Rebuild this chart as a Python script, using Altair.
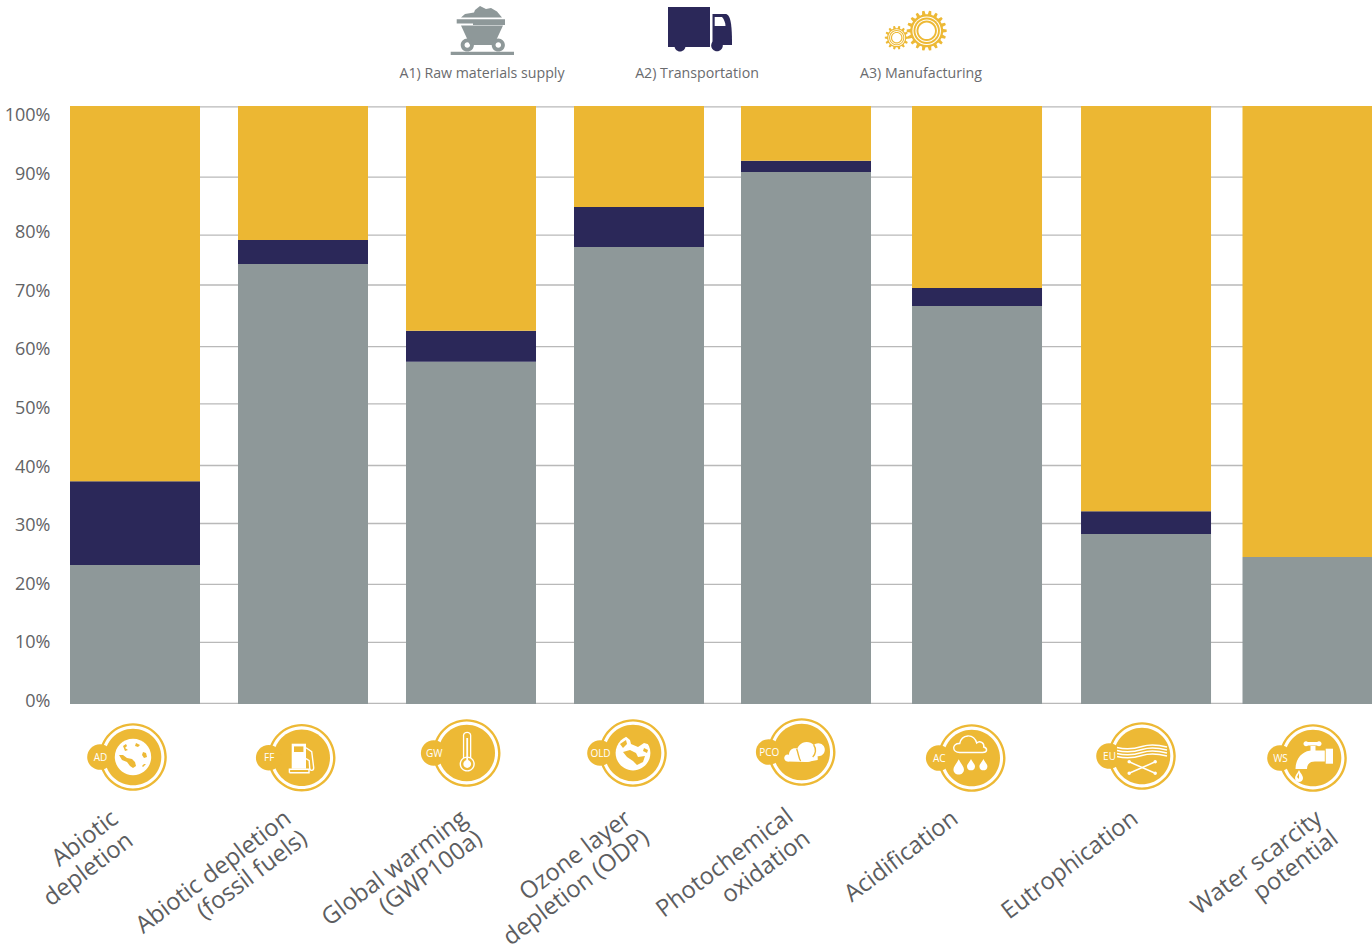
import math

import altair as alt
import pandas as pd

# Impact categories and the share of each life-cycle stage, in percent
categories = [
    "Abiotic depletion", "Abiotic depletion (fossil fuels)", "Global warming (GWP100a)",
    "Ozone layer depletion (ODP)", "Photochemical oxidation", "Acidification",
    "Eutrophication", "Water scarcity potential",
]
slots = [0, 1.003, 2.006, 3.009, 4.006, 5.027, 6.036, 7]
raw_materials = [23.7, 75.1, 58.4, 78.0, 90.8, 67.9, 29.0, 25.1]
transportation = [14.3, 4.1, 5.3, 6.8, 1.9, 3.1, 3.9, 0.0]
manufacturing = [64.05, 22.85, 38.35, 17.25, 9.35, 31.05, 69.15, 76.95]

stage_names = ["A1) Raw materials supply", "A2) Transportation", "A3) Manufacturing"]
tick_values = [0, 10, 20, 30, 40, 50, 60, 70, 80, 90, 100]
grid_levels = [0.1, 10.5, 20.4, 30.8, 40.7, 51.2, 61.0, 71.5, 80.0, 89.9, 101.9]

GREY = "#8e9899"
NAVY = "#2b2859"
YELLOW = "#ecb733"
ICON = "#edb935"
WHITE = "#ffffff"
TEXT = "#5c5d60"


def circle(cx, cy, r, hole=False):
    """Closed circle made of four cubic segments; hole=True reverses the winding."""
    k = 0.5523 * r
    if hole:
        return (f"M{cx + r},{cy}C{cx + r},{cy - k} {cx + k},{cy - r} {cx},{cy - r}"
                f"C{cx - k},{cy - r} {cx - r},{cy - k} {cx - r},{cy}"
                f"C{cx - r},{cy + k} {cx - k},{cy + r} {cx},{cy + r}"
                f"C{cx + k},{cy + r} {cx + r},{cy + k} {cx + r},{cy}Z")
    return (f"M{cx + r},{cy}C{cx + r},{cy + k} {cx + k},{cy + r} {cx},{cy + r}"
            f"C{cx - k},{cy + r} {cx - r},{cy + k} {cx - r},{cy}"
            f"C{cx - r},{cy - k} {cx - k},{cy - r} {cx},{cy - r}"
            f"C{cx + k},{cy - r} {cx + r},{cy - k} {cx + r},{cy}Z")


def drop(cx, cy, w, h):
    """Water drop with its point upward, centred on (cx, cy)."""
    t, b, hw = cy - h / 2, cy + h / 2, w / 2
    return (f"M{cx},{t}C{cx + hw * 0.4},{t + h * 0.3} {cx + hw},{t + h * 0.45} {cx + hw},{b - hw}"
            f"C{cx + hw},{b + hw * 0.3} {cx - hw},{b + hw * 0.3} {cx - hw},{b - hw}"
            f"C{cx - hw},{t + h * 0.45} {cx - hw * 0.4},{t + h * 0.3} {cx},{t}Z")


def gear(cx, cy, outer, inner, teeth):
    """Toothed wheel outline."""
    pts = []
    step = 2 * math.pi / teeth
    for i in range(teeth):
        a = i * step
        for da, r in [(-0.3, inner), (-0.17, outer), (0.17, outer), (0.3, inner)]:
            ang = a + da * step
            pts.append(f"{cx + r * math.cos(ang):.2f},{cy + r * math.sin(ang):.2f}")
    return "M" + "L".join(pts) + "Z"


fills = []    # x, y, path, colour of filled pieces, painted in row order
strokes = []  # x, y, path, colour, width of outlined pieces


def fill(x, y, path, color):
    fills.append({"x": x, "y": y, "path": path, "color": color})


def stroke(x, y, path, color=WHITE):
    strokes.append({"x": x, "y": y, "path": path, "color": color})


# Badge centres and their tag text
badges = [
    ("AD", 133, 757), ("FF", 301.7, 757.7), ("GW", 466.7, 753), ("OLD", 633, 753),
    ("PCO", 801.7, 752), ("AC", 971.7, 758), ("EU", 1142, 756), ("WS", 1313, 758),
]
for _, bx, by in badges:
    fill(bx, by, circle(0, 0, 33.8) + circle(0, 0, 31.4, hole=True), ICON)
    fill(bx, by, circle(0, 0, 28.3), ICON)
    fill(bx, by, circle(-33, 0, 12.8), ICON)

# Earth: white disc with thin yellow coastlines and seas
land = ("M-10,-11L-7,-13L-6,-11L-8,-9L-5,-7L-8,-6Z"
        "M-14,-2L-10,-2L-6,1L-1,2L2,5L3,9L0,11L-3,9L-6,5L-11,3Z"
        "M3,-14L7,-12L5,-10L2,-11Z"
        "M10,-5L13,-4L14,0L11,1L9,-2Z"
        "M11,7L13,7L10,10L9,9Z")
fill(133, 757, circle(0, 0, 18.2), WHITE)
fill(133, 757, land, ICON)

# Fuel pump
fill(301.7, 757.7, "M-10,-14L4.3,-14L4.3,11L-10,11Z", WHITE)
fill(301.7, 757.7, "M-7.7,-11.3L1.7,-11.3L1.7,-5.7L-7.7,-5.7Z", ICON)
stroke(301.7, 757.7, "M-12.3,15L-12.3,11.5L7.3,11.5L7.3,15L-12.3,15")
stroke(301.7, 757.7, "M4.3,-10L10,-6L10.5,-2L12,10C12,13.5 8,13.5 8,10L7.5,3L4.3,1")

# Thermometer
fill(466.7, 753, "M-3.8,-17.5C-3.8,-22.5 4.6,-22.5 4.6,-17.5L4.6,6L-3.8,6Z", WHITE)
fill(466.7, 753, "M-2.5,-17.5C-2.5,-20.8 3.3,-20.8 3.3,-17.5L3.3,6L-2.5,6Z", ICON)
fill(466.7, 753, circle(0.5, 11, 7.6), WHITE)
fill(466.7, 753, circle(0.5, 11, 6.2), ICON)
fill(466.7, 753, circle(0.5, 11, 3.9), WHITE)
fill(466.7, 753, "M-0.4,-15L1.4,-15L1.4,9L-0.4,9Z", WHITE)

# Earth with a bite out of its upper right
fill(633, 753, circle(0, 0, 17.4), WHITE)
fill(633, 753, ("M-9,-18L-3,-13L-2,-9L5,-6L11,-10L18,-8L18,-15L8,-22L-6,-22Z"
                "M-13,-9L-7,-13L-6,-9L-10,-5Z"
                "M-10,-1L-3,-3L3,0L5,4L12,3L10,9L4,12L0,8L-6,4Z"
                "M11,-5L15,-3L14,0L10,-2Z"), ICON)

# Smog cloud
for cx, cy, r in [(-14, 6, 3.5), (-6.7, 2.3, 6), (5, 0, 10), (16.6, -2.3, 6.5)]:
    fill(801.7, 752, circle(cx, cy, r), WHITE)
fill(801.7, 752, "M-14,6L16,2L16,8L5,10L-14,9.5Z", WHITE)
stroke(801.7, 752, "M-5,-3C-3,2 -3,7 -1,9", ICON)
stroke(801.7, 752, "M12,-7C15,-3 14,2 11,5", ICON)

# Rain cloud
stroke(971.7, 758, ("M-12,-5.5C-20,-5.5 -20,-15 -12,-14.5C-10,-24 2,-25 5,-15"
                    "C8,-18 13,-15 12,-11C16,-10 16,-5.5 11,-5.5Z"))
fill(971.7, 758, drop(-13, 9, 10.5, 15.5), WHITE)
fill(971.7, 758, drop(-0.7, 6.7, 8, 11.5), WHITE)
fill(971.7, 758, drop(11.7, 6.7, 8, 11.5), WHITE)

# Polluted water and crossed bones
for dy in (-9.5, -6.5, -3.5, -0.5):
    stroke(1142, 756, f"M-25,{dy + 1}C-15,{dy + 3.5} -8,{dy + 2.5} 0,{dy}C8,{dy - 2.5} 15,{dy - 2} 25,{dy + 0.5}")
stroke(1142, 756, "M-12.3,17L12.7,6")
stroke(1142, 756, "M-12.3,6L12.7,17")
for cx, cy in [(-12.8, 5.7), (-12.8, 17.3), (13.2, 5.7), (13.2, 17.3)]:
    fill(1142, 756, circle(cx, cy, 1.7), WHITE)

# Dripping tap
fill(1313, 758, "M12.7,-9.3L20,-9.3L20,5.7L12.7,5.7Z", WHITE)
fill(1313, 758, "M11.8,-7.5L11.8,3.5L2,3.5C-3,3.5 -6,6 -6,11L-17.5,11C-17.5,-1 -9,-7.5 -1,-7.5Z", WHITE)
fill(1313, 758, "M-2.5,-12L2.5,-12L2.5,-7L-2.5,-7Z", WHITE)
fill(1313, 758, "M-6,-16L5,-16L5,-12.5L-6,-12.5Z", WHITE)
fill(1313, 758, circle(-7, -14.2, 2.5), WHITE)
fill(1313, 758, circle(6, -14.2, 2.5), WHITE)
fill(1313, 758, drop(-14, 18, 8, 12), WHITE)
fill(1313, 758, "M-14,15L-14,21L-16,19Z", ICON)

# Mine cart
fill(0, 0, "M450.7,51.7L514,51.7L514,55L450.7,55Z", GREY)
fill(0, 0, "M461,25.5L503,25.5L494,45L470,45Z", GREY)
fill(0, 0, "M456.7,19.3L505,19.3L505,25L473,25L473,23.5L456.7,23.5Z", GREY)
fill(0, 0, "M461,17.5L465,14L474,12.5L475,10L480,6L486,9L491,8L497,11.5L502,17.5Z", GREY)
for wx in (467.3, 498.3):
    fill(0, 0, circle(wx, 45, 6.6) + circle(wx, 45, 2.8, hole=True), GREY)

# Delivery truck
fill(0, 0, "M668,7L710,7L710,47L668,47Z", NAVY)
fill(0, 0, "M712.5,14L726,14C730,15 732,22 732,43L732,45L712.5,45Z", NAVY)
fill(0, 0, "M714.7,17L722,17C724,19 725.5,23 725.5,26L714.7,26Z", WHITE)
fill(0, 0, circle(680, 46, 5.5), NAVY)
fill(0, 0, circle(717, 45.5, 5.8), NAVY)

# Meshing gears
for cx, cy, outer, inner, teeth, rings in [
    (926.7, 30.7, 20, 16.5, 18, [(14.3, WHITE), (13.2, ICON), (11.3, WHITE), (10.2, ICON), (8.3, WHITE)]),
    (896.7, 37.7, 11.9, 9.6, 14, [(8.4, WHITE), (7.6, ICON), (6.6, WHITE), (5.8, ICON), (4.6, WHITE)]),
]:
    fill(0, 0, gear(cx, cy, outer, inner, teeth), ICON)
    for r, col in rings:
        fill(0, 0, circle(cx, cy, r), col)

# Rotated category captions, one row per text line, anchored at the line's end
caption_lines = [
    ("Abiotic", 115.5, 816), ("depletion", 130.5, 838),
    ("Abiotic depletion", 288.5, 816), ("(fossil fuels)", 304.5, 836),
    ("Global warming", 464.5, 816), ("(GWP100a)", 479.5, 836),
    ("Ozone layer", 628.5, 816), ("depletion (ODP)", 646.5, 835),
    ("Photochemical", 790.5, 814), ("oxidation", 807.5, 836),
    ("Acidification", 955.5, 816),
    ("Eutrophication", 1135.5, 816),
    ("Water scarcity", 1319.5, 816), ("potential", 1335.5, 836),
]
captions = pd.DataFrame(caption_lines, columns=["text", "x", "y"])
tags = pd.DataFrame([{"text": t, "x": x - 32.5, "y": y + 0.5} for t, x, y in badges])
stage_labels = pd.DataFrame({"text": stage_names, "x": [482, 697, 921], "y": [73.5, 73.5, 73.5]})

bars = pd.DataFrame([
    {"category": c, "slot": s, "stage": stage, "order": i, "share": v}
    for i, (stage, series) in enumerate(zip(stage_names, [raw_materials, transportation, manufacturing]))
    for c, s, v in zip(categories, slots, series)
])

y_scale = alt.Scale(domain=[0, 100], range=[704, 118])
x_scale = alt.Scale(domain=[0, 7], range=[135, 1307.5], padding=0)

grid = alt.Chart(pd.DataFrame({"level": grid_levels})).mark_rule(
    color="#b9b9b9", strokeWidth=1.3
).encode(
    x=alt.value(70), x2=alt.value(1372),
    y=alt.Y("level:Q", scale=y_scale, axis=None),
)

# Invisible tick table carries the percent axis, whose labels sit a little above their levels
axis_layer = alt.Chart(pd.DataFrame({"tick": tick_values})).mark_point(opacity=0).encode(
    y=alt.Y("tick:Q", scale=y_scale, axis=alt.Axis(
        values=tick_values, title=None, domain=False, ticks=False, grid=False,
        labelExpr="datum.value + '%'", labelFont="Open Sans", labelFontSize=18,
        labelColor="#626366", labelOffset=-2.5, labelPadding=0, offset=-50,
    )),
)

stack = alt.Chart(bars).mark_bar(size=130).encode(
    x=alt.X("slot:Q", scale=x_scale, axis=None),
    y=alt.Y("share:Q", stack="zero", scale=y_scale, axis=None),
    color=alt.Color("stage:N", scale=alt.Scale(domain=stage_names, range=[GREY, NAVY, YELLOW]), legend=None),
    order=alt.Order("order:Q"),
)

pixel = dict(x=alt.X("x:Q", scale=None, axis=None), y=alt.Y("y:Q", scale=None, axis=None))

icon_fill = alt.Chart(pd.DataFrame(fills)).mark_point(filled=True, size=4, opacity=1, strokeWidth=0).encode(
    shape=alt.Shape("path:N", scale=None),
    color=alt.Color("color:N", scale=None),
    **pixel,
)
icon_stroke = alt.Chart(pd.DataFrame(strokes)).mark_point(filled=False, size=4, opacity=1, strokeWidth=1.4).encode(
    shape=alt.Shape("path:N", scale=None),
    color=alt.Color("color:N", scale=None),
    **pixel,
)
tag_text = alt.Chart(tags).mark_text(
    font="Open Sans", fontSize=10, color=WHITE, align="center", baseline="middle"
).encode(text="text:N", **pixel)
stage_text = alt.Chart(stage_labels).mark_text(
    font="Open Sans", fontSize=14.2, color="#6a6b6e", align="center", baseline="middle"
).encode(text="text:N", **pixel)
caption_text = alt.Chart(captions).mark_text(
    font="Open Sans", fontSize=23.8, color=TEXT, align="right", baseline="middle", angle=323
).encode(text="text:N", **pixel)

chart = alt.layer(
    grid, axis_layer, stack, icon_fill, icon_stroke, tag_text, stage_text, caption_text
).resolve_scale(
    x="independent", y="independent", color="independent"
).resolve_axis(y="independent").properties(
    width=1372, height=949, padding=0, autosize=alt.AutoSizeParams(type="none"),
    background="#ffffff",
).configure_view(stroke=None)

chart.save("out.html", embed_options={"renderer": "svg", "actions": False})
